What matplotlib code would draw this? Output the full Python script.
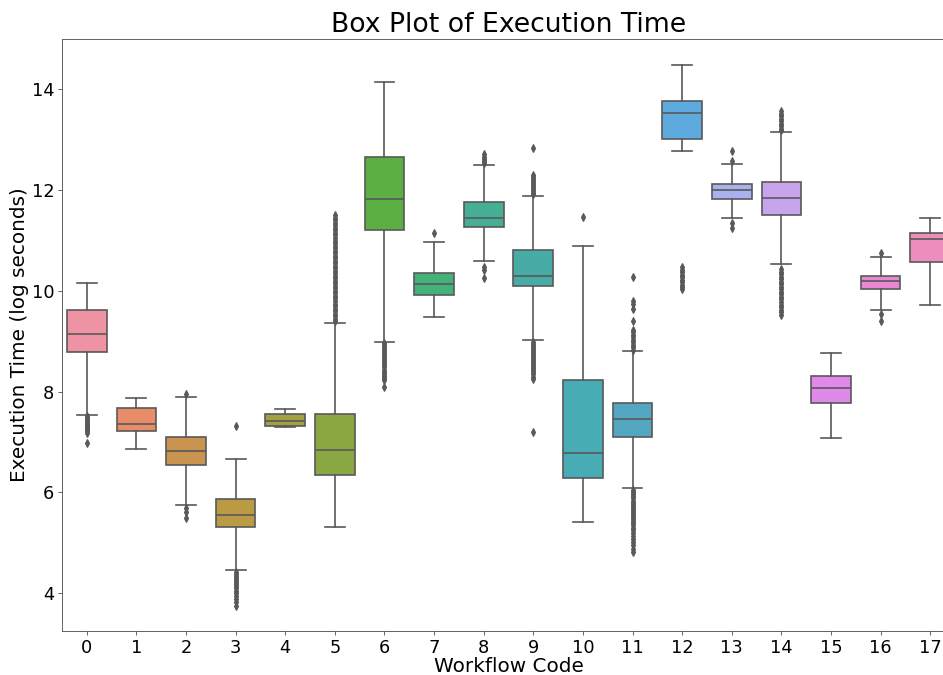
import colorsys
import matplotlib
matplotlib.use("Agg")
import matplotlib.pyplot as plt
import seaborn as sns

# summary stats per workflow (log seconds)
codes = list(range(18))
whislo = [7.54, 6.87, 5.75, 4.46, 7.29, 5.31, 8.99, 9.49, 10.60, 9.03,
          5.42, 6.08, 12.78, 11.45, 10.53, 7.09, 9.63, 9.73]
q1 = [8.79, 7.22, 6.55, 5.32, 7.31, 6.34, 11.20, 9.91, 11.27, 10.09,
      6.29, 7.10, 13.01, 11.82, 11.50, 7.78, 10.03, 10.57]
med = [9.14, 7.35, 6.82, 5.56, 7.42, 6.85, 11.83, 10.13, 11.45, 10.29,
       6.79, 7.45, 13.53, 12.00, 11.84, 8.07, 10.20, 11.03]
q3 = [9.62, 7.67, 7.10, 5.87, 7.55, 7.55, 12.66, 10.35, 11.76, 10.81,
      8.23, 7.77, 13.76, 12.12, 12.16, 8.32, 10.30, 11.15]
whishi = [10.15, 7.87, 7.90, 6.67, 7.65, 9.36, 14.15, 10.98, 12.50, 11.89,
          10.90, 8.80, 14.49, 12.52, 13.16, 8.76, 10.68, 11.44]

# outliers
fliers = [
    [7.52, 7.48, 7.45, 7.42, 7.39, 7.36, 7.33, 7.30, 7.27, 7.24, 7.21, 7.18, 6.98],
    [],
    [7.96, 5.70, 5.62, 5.49],
    [7.31, 4.43, 4.39, 4.35, 4.31, 4.27, 4.23, 4.19, 4.15, 4.10, 4.05, 4.00,
     3.94, 3.88, 3.82, 3.74],
    [],
    [9.40, 9.45, 9.50, 9.55, 9.60, 9.65, 9.70, 9.75, 9.80, 9.85, 9.90, 9.95,
     10.00, 10.05, 10.10, 10.15, 10.20, 10.25, 10.30, 10.35, 10.40, 10.45,
     10.50, 10.55, 10.60, 10.65, 10.70, 10.75, 10.80, 10.85, 10.90, 10.95,
     11.00, 11.05, 11.10, 11.15, 11.20, 11.25, 11.30, 11.35, 11.40, 11.45, 11.50],
    [8.96, 8.92, 8.88, 8.84, 8.80, 8.76, 8.72, 8.68, 8.64, 8.60, 8.56, 8.52,
     8.48, 8.44, 8.40, 8.36, 8.32, 8.28, 8.24, 8.09],
    [11.14],
    [12.71, 12.66, 12.62, 12.57, 12.54, 10.47, 10.41, 10.26],
    [12.83, 12.30, 12.26, 12.22, 12.18, 12.14, 12.10, 12.06, 12.02, 11.98,
     11.94, 11.92, 8.99, 8.95, 8.91, 8.87, 8.83, 8.79, 8.75, 8.71, 8.67, 8.63,
     8.59, 8.55, 8.51, 8.47, 8.43, 8.39, 8.35, 8.30, 8.26, 7.19],
    [11.46],
    [10.28, 9.80, 9.74, 9.65, 9.40, 9.23, 9.18, 9.13, 9.08, 9.03, 8.98, 8.93,
     8.88, 8.83, 6.04, 6.00, 5.96, 5.92, 5.88, 5.84, 5.80, 5.76, 5.72, 5.68,
     5.64, 5.60, 5.56, 5.52, 5.48, 5.44, 5.40, 5.35, 5.30, 5.25, 5.20, 5.14,
     5.08, 5.02, 4.95, 4.88, 4.82],
    [10.47, 10.42, 10.37, 10.32, 10.27, 10.22, 10.17, 10.12, 10.08, 10.03],
    [12.78, 12.57, 11.35, 11.25],
    [13.57, 13.52, 13.47, 13.42, 13.37, 13.32, 13.27, 13.22, 13.19, 10.43,
     10.38, 10.33, 10.28, 10.23, 10.18, 10.13, 10.08, 10.03, 9.98, 9.93, 9.88,
     9.83, 9.78, 9.73, 9.68, 9.63, 9.58, 9.53],
    [],
    [10.75, 9.55, 9.41],
    [],
]

# husl colours, desaturated and lightened slightly
pal = []
for c in sns.color_palette("husl", len(codes)):
    h, l, s = colorsys.rgb_to_hls(*sns.desaturate(c, 0.8))
    pal.append(colorsys.hls_to_rgb(h, min(1, l * 1.07), s))
gray = "#595959"

fig = plt.figure(figsize=(943 / 80, 675 / 80), dpi=80)
ax = fig.add_axes([62 / 943, 1 - 631 / 675, 893 / 943, 592 / 675])

stats = []
for i in codes:
    stats.append(dict(whislo=whislo[i], q1=q1[i], med=med[i], q3=q3[i],
                      whishi=whishi[i], fliers=fliers[i]))

lw = 1.5
art = ax.bxp(stats, positions=codes, widths=0.8, patch_artist=True,
             boxprops=dict(edgecolor=gray, linewidth=lw),
             whiskerprops=dict(color=gray, linewidth=lw),
             capprops=dict(color=gray, linewidth=lw),
             medianprops=dict(color=gray, linewidth=lw),
             flierprops=dict(marker="d", markersize=4.5, markerfacecolor=gray,
                             markeredgecolor=gray, linestyle="none"))
for box, c in zip(art["boxes"], pal):
    box.set_facecolor(c)

for sp in ax.spines.values():
    sp.set_color("#555555")
ax.tick_params(colors="#555555", labelcolor="black", labelsize=16)

ax.set_xlim(-0.5, 17.5)
ax.set_ylim(3.25, 15.0)
ax.set_xticks(codes)
ax.set_xticklabels([str(c) for c in codes])
ax.set_yticks([4, 6, 8, 10, 12, 14])
ax.set_title("Box Plot of Execution Time", fontsize=24)
ax.set_xlabel("Workflow Code", fontsize=18, labelpad=0)
ax.set_ylabel("Execution Time (log seconds)", fontsize=18, labelpad=2)

fig.savefig("out.png", dpi=80)
